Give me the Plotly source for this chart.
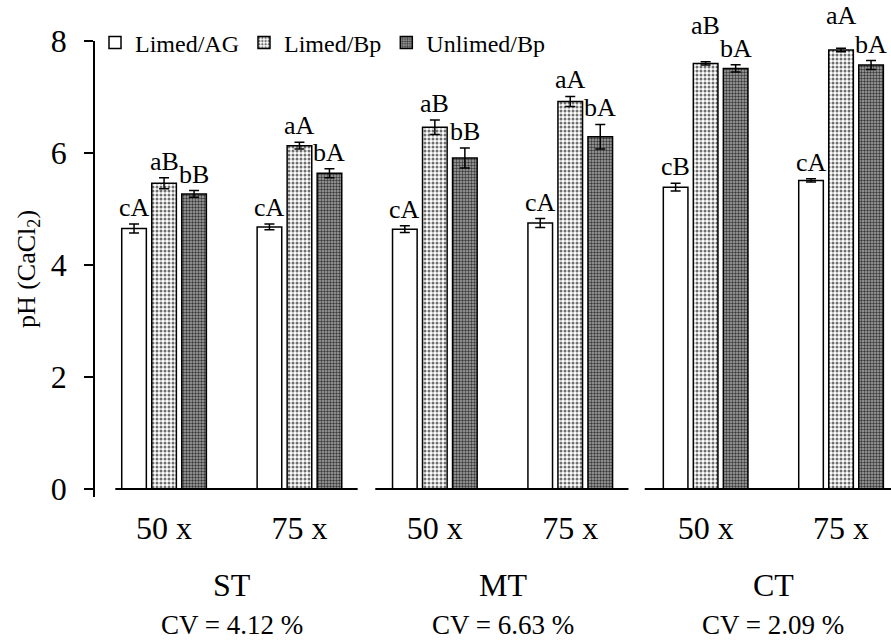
import plotly.graph_objects as go

# Doses within each tillage system and the tillage systems themselves
dose_labels = ["50 x", "75 x", "50 x", "75 x", "50 x", "75 x"]
systems = ["ST", "MT", "CT"]
cv_values = ["4.12", "6.63", "2.09"]

# pH (CaCl2) means and standard errors per treatment
limed_ag = [4.65, 4.68, 4.64, 4.75, 5.39, 5.51]
limed_ag_err = [0.08, 0.05, 0.06, 0.08, 0.07, 0.03]
limed_bp = [5.46, 6.13, 6.46, 6.92, 7.60, 7.84]
limed_bp_err = [0.10, 0.06, 0.13, 0.09, 0.03, 0.03]
unlimed_bp = [5.27, 5.64, 5.91, 6.29, 7.51, 7.57]
unlimed_bp_err = [0.06, 0.08, 0.18, 0.22, 0.065, 0.08]

# Mean-comparison letters
limed_ag_letters = ["cA", "cA", "cA", "cA", "cB", "cA"]
limed_bp_letters = ["aB", "aA", "aB", "aA", "aB", "aA"]
unlimed_bp_letters = ["bB", "bA", "bB", "bA", "bA", "bA"]

FONT = "Liberation Serif, Times New Roman, serif"
BARGAP = 0.335
GROUPGAP = 0.18
x = list(range(len(dose_labels)))

series = [
    ("Limed/AG", limed_ag, limed_ag_err, limed_ag_letters,
     dict(color="white")),
    ("Limed/Bp", limed_bp, limed_bp_err, limed_bp_letters,
     dict(color="white", pattern=dict(shape=".", bgcolor="white", fgcolor="#6f6f6f",
                                       size=4, solidity=0.45, fillmode="replace"))),
    ("Unlimed/Bp", unlimed_bp, unlimed_bp_err, unlimed_bp_letters,
     dict(color="#9a9a9a", pattern=dict(shape=".", bgcolor="#a8a8a8", fgcolor="#3a3a3a",
                                         size=3, solidity=0.5, fillmode="replace"))),
]

fig = go.Figure()
for name, vals, errs, _, marker in series:
    fig.add_trace(go.Bar(
        name=name, x=x, y=vals,
        marker=dict(line=dict(color="black", width=1.5), **marker),
        error_y=dict(type="data", array=errs, visible=True, color="black",
                     thickness=1.5, width=5),
    ))

# Letters above each error bar
slot = (1 - BARGAP) / 3
raised = {(1, 4): 20, (1, 5): 16}
annotations = []
for si, (name, vals, errs, letters, _) in enumerate(series):
    for i in x:
        annotations.append(dict(
            x=i + (si - 1) * slot, y=vals[i] + errs[i], xref="x", yref="y",
            text=letters[i], showarrow=False, yanchor="bottom",
            yshift=raised.get((si, i), 0),
            font=dict(family=FONT, size=26, color="black"),
        ))

# System names and coefficients of variation under each pair of doses
for k, (s, cv) in enumerate(zip(systems, cv_values)):
    cx = 2 * k + 0.5
    annotations.append(dict(x=cx, y=-0.193, xref="x", yref="paper", text=s,
                            showarrow=False, yanchor="middle",
                            font=dict(family=FONT, size=32, color="black")))
    annotations.append(dict(x=cx, y=-0.318, xref="x", yref="paper",
                            text=f"CV = {cv} %", showarrow=False, yanchor="bottom",
                            font=dict(family=FONT, size=27, color="black")))

# Baseline broken between tillage systems
shapes = []
for x0, x1 in [(-0.36, 1.43), (1.56, 3.43), (3.55, 5.45)]:
    shapes.append(dict(type="line", xref="x", yref="y", x0=x0, x1=x1, y0=0, y1=0,
                       line=dict(color="black", width=2), layer="above"))

fig.update_layout(
    width=891, height=642,
    margin=dict(l=95, r=0, t=41, b=145),
    paper_bgcolor="white", plot_bgcolor="white",
    barmode="group", bargap=BARGAP, bargroupgap=GROUPGAP,
    font=dict(family=FONT, color="black"),
    showlegend=True,
    legend=dict(orientation="h", x=0, y=0.9956, xanchor="left", yanchor="middle",
                font=dict(family=FONT, size=24, color="black"),
                bgcolor="rgba(0,0,0,0)", itemwidth=30, tracegroupgap=0),
    annotations=annotations,
    shapes=shapes,
)
fig.update_xaxes(range=[-0.51, 5.369], tickvals=x, ticktext=dose_labels,
                 showline=False, showgrid=False, zeroline=False, ticks="",
                 tickfont=dict(family=FONT, size=32, color="black"),
                 ticklabelstandoff=9)
fig.update_yaxes(range=[-0.143, 8], tickvals=[0, 2, 4, 6, 8],
                 showline=True, linecolor="black", linewidth=1.5,
                 ticks="outside", ticklen=9, tickwidth=1.5, tickcolor="black",
                 showgrid=False, zeroline=False,
                 tickfont=dict(family=FONT, size=32, color="black"),
                 ticklabelstandoff=11,
                 title=dict(text="pH (CaCl<sub>2</sub>)", standoff=8,
                            font=dict(family=FONT, size=26, color="black")))

fig.write_html("out.html")
